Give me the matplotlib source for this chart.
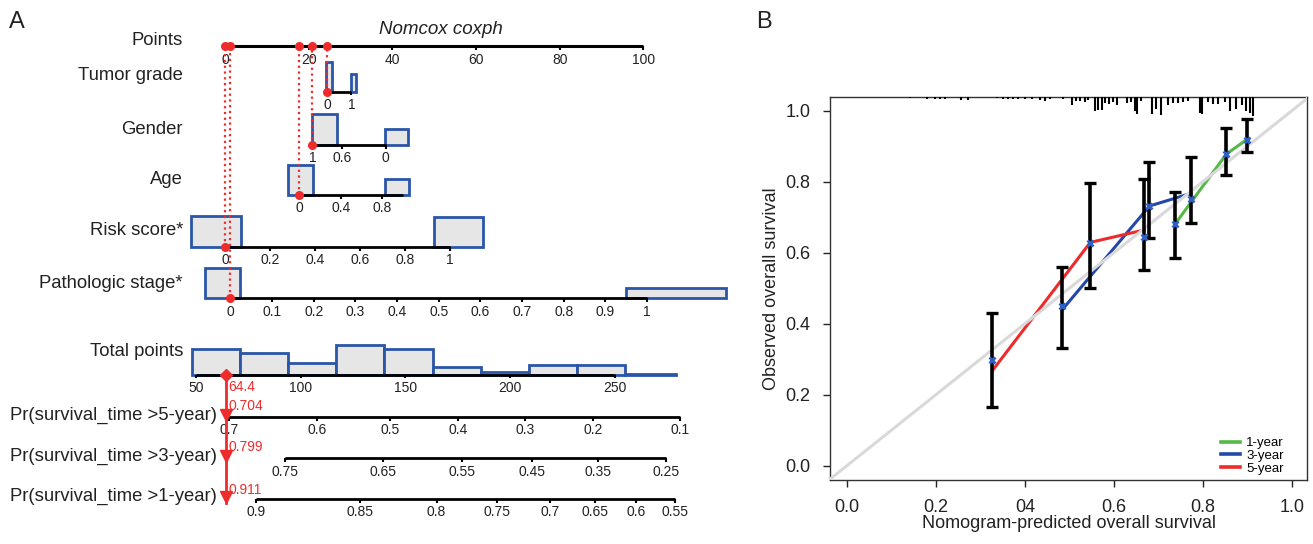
import matplotlib
matplotlib.use('Agg')
import matplotlib.pyplot as plt
from matplotlib.lines import Line2D
import numpy as np

plt.rcParams['font.family'] = ['Liberation Sans', 'DejaVu Sans']

# ------------------------------------------------------------------ data: panel A (nomogram)
points_ticks = [0, 20, 40, 60, 80, 100]

tumor_ticks = [0, 1]
tumor_labels = ['0', '1']
tumor_range = [0, 1]
tumor_pts = [24.4, 30.2]            # points at value 0 and 1
tumor_box_lo = [-0.03, 0.97]
tumor_box_hi = [0.19, 1.19]
tumor_box_freq = [30, 18]

gender_ticks = [1, 0.6, 0]
gender_labels = ['1', '0.6', '0']
gender_range = [1, 0]
gender_pts = [20.9, 38.4]           # points at value 1 and 0
gender_box_lo = [0.67, -0.31]
gender_box_hi = [1.0, 0.01]
gender_box_freq = [31, 16]

age_ticks = [0, 0.4, 0.8]
age_labels = ['0', '0.4', '0.8']
age_range = [0, 1]
age_pts = [17.8, 42.6]
age_box_lo = [-0.11, 0.82]
age_box_hi = [0.13, 1.06]
age_box_freq = [30, 16]

risk_ticks = [0, 0.2, 0.4, 0.6, 0.8, 1]
risk_labels = ['0', '0.2', '0.4', '0.6', '0.8', '1']
risk_range = [0, 1]
risk_pts = [0.0, 53.7]
risk_box_lo = [-0.15, 0.93]
risk_box_hi = [0.07, 1.15]
risk_box_freq = [31, 30]

stage_ticks = [0, 0.1, 0.2, 0.3, 0.4, 0.5, 0.6, 0.7, 0.8, 0.9, 1]
stage_labels = ['0', '0.1', '0.2', '0.3', '0.4', '0.5', '0.6', '0.7', '0.8', '0.9', '1']
stage_range = [0, 1]
stage_pts = [1.3, 100.9]
stage_box_lo = [-0.06, 0.95]
stage_box_hi = [0.024, 1.19]
stage_box_freq = [30, 10]

# observation shown in red
obs_values = {'tumor': 0, 'gender': 1, 'age': 0, 'risk': 0, 'stage': 0}

total_ticks = [50, 100, 150, 200, 250]
total_anchor = [50, 250]            # total points ...
total_anchor_pts = [-7.0, 93.2]     # ... and where they sit on the Points scale
total_bin_edges = [48, 71, 94, 117, 140, 163, 186, 209, 232, 255, 279]
total_freq = [26, 22, 12, 30, 26, 8, 3, 10, 10, 1]

pr5_ticks = [0.7, 0.6, 0.5, 0.4, 0.3, 0.2, 0.1]
pr5_total = [66.0, 107.7, 142.7, 175.0, 207.1, 239.7, 281.0]
pr3_ticks = [0.75, 0.65, 0.55, 0.45, 0.35, 0.25]
pr3_total = [92.6, 139.5, 177.3, 210.5, 242.0, 274.6]
pr1_ticks = [0.9, 0.85, 0.8, 0.75, 0.7, 0.65, 0.6, 0.55]
pr1_total = [78.8, 128.4, 164.9, 193.8, 219.0, 240.7, 260.3, 278.6]
pred_surv = [0.704, 0.799, 0.911]   # 5-, 3-, 1-year

# ------------------------------------------------------------------ data: panel B (calibration)
cal_years = ['1-year', '3-year', '5-year']
cal_pred = {'1-year': [0.737, 0.853, 0.900],
            '3-year': [0.4836, 0.680, 0.773],
            '5-year': [0.327, 0.547, 0.668]}
cal_obs = {'1-year': [0.680, 0.878, 0.920],
           '3-year': [0.439, 0.7315, 0.767],
           '5-year': [0.268, 0.629, 0.664]}
cal_corr = {'1-year': [0.681, 0.878, 0.917],
            '3-year': [0.451, 0.7315, 0.750],
            '5-year': [0.298, 0.626, 0.645]}
cal_lo = {'1-year': [0.586, 0.820, 0.885],
          '3-year': [0.331, 0.642, 0.683],
          '5-year': [0.164, 0.501, 0.551]}
cal_hi = {'1-year': [0.770, 0.952, 0.976],
          '3-year': [0.561, 0.856, 0.870],
          '5-year': [0.429, 0.796, 0.807]}

rug_x = [0.142, 0.180, 0.198, 0.209, 0.220, 0.256, 0.272, 0.337, 0.351, 0.362, 0.373,
         0.384, 0.400, 0.416, 0.434, 0.445, 0.456, 0.485, 0.506, 0.515, 0.524, 0.535,
         0.542, 0.557, 0.564, 0.573, 0.580, 0.589, 0.598, 0.606, 0.629, 0.638, 0.647,
         0.652, 0.662, 0.685, 0.694, 0.706, 0.721, 0.733, 0.744, 0.756, 0.767, 0.793,
         0.799, 0.811, 0.822, 0.834, 0.849, 0.861, 0.874, 0.888, 0.897, 0.906, 0.912]
rug_n = [1, 2, 2, 2, 2, 3, 3, 1, 2, 2, 2,
         2, 2, 2, 3, 4, 2, 2, 8, 4, 4, 5,
         3, 14, 13, 13, 6, 7, 5, 8, 6, 5, 14,
         17, 4, 17, 12, 18, 8, 6, 6, 5, 4, 16,
         17, 5, 7, 7, 5, 14, 12, 8, 14, 16, 19]

# ------------------------------------------------------------------ style
RED = '#EE2C2C'
BLUE_EDGE = '#2A55A8'
BOX_FILL = '#E6E6E6'
PX0, PXS = 225.0, 4.183       # pixel x of 0 points, pixels per point
W, H = 1313, 544

fig = plt.figure(figsize=(W / 100, H / 100), dpi=100)

axA = fig.add_axes([0, 0, 760 / W, 1])
axA.set_xlim((0 - PX0) / PXS, (760 - PX0) / PXS)
axA.set_ylim(H, 0)
axA.axis('off')

TICK_FS = 10
LAB_FS = 13.3
LAB_X = (183 - PX0) / PXS


def vmap(v, rng, pts):
    v = np.asarray(v, dtype=float)
    return pts[0] + (v - rng[0]) * (pts[1] - pts[0]) / (rng[1] - rng[0])


def draw_scale(xs, y, labels, lab_dy=13.5, lw=2.0):
    xs = np.asarray(xs, dtype=float)
    axA.plot([xs.min(), xs.max()], [y, y], color='black', lw=lw,
             solid_capstyle='butt', zorder=3)
    axA.vlines(xs, y, y + 3.5, color='black', lw=1.5, zorder=3)
    for x, lab in zip(xs, labels):
        axA.text(x, y + lab_dy, lab, ha='center', va='center',
                 fontsize=TICK_FS, color='#222222')


def draw_boxes(lo, hi, freq, rng, pts, y):
    for a, b, f in zip(lo, hi, freq):
        xa, xb = vmap(a, rng, pts), vmap(b, rng, pts)
        axA.add_patch(plt.Rectangle((min(xa, xb), y - f), abs(xb - xa), f,
                                    facecolor=BOX_FILL, edgecolor=BLUE_EDGE,
                                    lw=2.0, zorder=2))


# Points scale
Y_POINTS = 46
draw_scale(points_ticks, Y_POINTS, [str(t) for t in points_ticks], lab_dy=13.5, lw=2.2)
axA.text(LAB_X, 40.7, 'Points', ha='right', va='center', fontsize=LAB_FS, color='#222222')
axA.text((440.8 - PX0) / PXS, 29, 'Nomcox coxph', ha='center', va='center',
         fontsize=13.5, style='italic', color='#222222')

rows = [
    ('Tumor grade', 'tumor', 91.7, 75, tumor_ticks, tumor_labels, tumor_range, tumor_pts,
     tumor_box_lo, tumor_box_hi, tumor_box_freq),
    ('Gender', 'gender', 145, 130, gender_ticks, gender_labels, gender_range, gender_pts,
     gender_box_lo, gender_box_hi, gender_box_freq),
    ('Age', 'age', 195, 180, age_ticks, age_labels, age_range, age_pts,
     age_box_lo, age_box_hi, age_box_freq),
    ('Risk score*', 'risk', 247, 230.7, risk_ticks, risk_labels, risk_range, risk_pts,
     risk_box_lo, risk_box_hi, risk_box_freq),
    ('Pathologic stage*', 'stage', 298, 283.3, stage_ticks, stage_labels, stage_range, stage_pts,
     stage_box_lo, stage_box_hi, stage_box_freq),
]

obs_pts = []
for name, key, y, ly, ticks, labels, rng, pts, blo, bhi, bf in rows:
    draw_boxes(blo, bhi, bf, rng, pts, y)
    line_xs = vmap(list(ticks) + list(rng), rng, pts)
    axA.plot([line_xs.min(), line_xs.max()], [y, y], color='black', lw=2.0,
             solid_capstyle='butt', zorder=3)
    tx = vmap(ticks, rng, pts)
    axA.vlines(tx, y, y + 3.5, color='black', lw=1.5, zorder=3)
    for x, lab in zip(tx, labels):
        axA.text(x, y + 13.5, lab, ha='center', va='center', fontsize=TICK_FS, color='#222222')
    axA.text(LAB_X, ly, name, ha='right', va='center', fontsize=LAB_FS, color='#222222')
    p = float(vmap(obs_values[key], rng, pts))
    obs_pts.append(p)
    axA.plot([p, p], [y, Y_POINTS], color=RED, lw=1.6, linestyle=(0, (1, 1.6)), zorder=4)
    axA.plot([p], [y], 'o', color=RED, ms=5.5, zorder=5)
    axA.plot([p], [Y_POINTS], 'o', color=RED, ms=5.5, zorder=5)

total_obs = sum(obs_pts)


def tmap(t):
    return vmap(t, total_anchor, total_anchor_pts)


# Total points
Y_TOTAL = 374.5
for a, b, f in zip(total_bin_edges[:-1], total_bin_edges[1:], total_freq):
    xa, xb = tmap(a), tmap(b)
    axA.add_patch(plt.Rectangle((xa, Y_TOTAL - f), xb - xa, f, facecolor=BOX_FILL,
                                edgecolor=BLUE_EDGE, lw=2.0, zorder=2))
draw_scale(tmap(total_ticks), Y_TOTAL, [str(t) for t in total_ticks], lab_dy=13.5)
axA.text(LAB_X, 351.7, 'Total points', ha='right', va='center', fontsize=LAB_FS, color='#222222')

# Probability scales
PR_LAB_X = (216.7 - PX0) / PXS
pr_rows = [
    ('Pr(survival_time >5-year)', 417.3, 415, pr5_ticks, pr5_total, pred_surv[0]),
    ('Pr(survival_time >3-year)', 458.3, 456, pr3_ticks, pr3_total, pred_surv[1]),
    ('Pr(survival_time >1-year)', 499.3, 496.7, pr1_ticks, pr1_total, pred_surv[2]),
]
for name, y, ly, ticks, tpos, ps in pr_rows:
    draw_scale(tmap(tpos), y, [f'{t:g}' for t in ticks], lab_dy=13.2)
    axA.text(PR_LAB_X, ly, name, ha='right', va='center', fontsize=LAB_FS, color='#222222')

# red projection
xo = float(tmap(total_obs))
axA.plot([xo, xo], [Y_TOTAL, 503], color=RED, lw=2.0, zorder=5)
axA.plot([xo], [Y_TOTAL], 'D', color=RED, ms=6.5, zorder=6)
for name, y, ly, ticks, tpos, ps in pr_rows:
    axA.plot([xo], [y - 2.5], 'v', color=RED, ms=8, zorder=6)
tx_red = (228.5 - PX0) / PXS
axA.text(tx_red, 387, f'{total_obs:.1f}', ha='left', va='center', fontsize=TICK_FS, color=RED)
for (name, y, ly, ticks, tpos, ps), ty in zip(pr_rows, [405.5, 447, 490.5]):
    axA.text(tx_red, ty, f'{ps:.3f}', ha='left', va='center', fontsize=TICK_FS, color=RED)

fig.text(9 / W, 1 - 22 / H, 'A', fontsize=17, ha='left', va='center', color='#222222')
fig.text(756 / W, 1 - 22 / H, 'B', fontsize=17, ha='left', va='center', color='#222222')

# ------------------------------------------------------------------ panel B
axB = fig.add_axes([830 / W, (H - 480) / H, 477 / W, 383 / H])
axB.set_xlim(-0.038, 1.034)
axB.set_ylim(-0.0403, 1.0386)

colors = {'1-year': '#55B847', '3-year': '#2448A8', '5-year': '#EE2A2A'}
for yr in cal_years:
    axB.plot(cal_pred[yr], cal_obs[yr], color=colors[yr], lw=2.2, zorder=2)
axB.plot([-0.1, 1.2], [-0.1, 1.2], color='#D9D9D9', lw=2.2, zorder=3)
for yr in cal_years:
    c = np.array(cal_corr[yr])
    axB.errorbar(cal_pred[yr], c, yerr=[c - np.array(cal_lo[yr]), np.array(cal_hi[yr]) - c],
                 fmt='none', ecolor='black', elinewidth=2.6, capsize=4.5, capthick=2.4,
                 zorder=4)
for yr in cal_years:
    axB.plot(cal_pred[yr], cal_corr[yr], 'x', color='#2F5FC4', ms=4.5, mew=2.0, zorder=5)

top = axB.get_ylim()[1]
rug_len = np.array(rug_n) / 355.0
axB.vlines(rug_x, top - rug_len, top, color='black', lw=1.5, zorder=4)

axB.set_xticks([0, 0.2, 0.4, 0.6, 0.8, 1.0])
axB.set_xticklabels(['0.0', '0.2', '04', '0.6', '0.8', '1.0'])
axB.set_yticks([0, 0.2, 0.4, 0.6, 0.8, 1.0])
axB.set_yticklabels(['0.0', '0.2', '0.4', '0.6', '0.8', '1.0'])
axB.tick_params(direction='out', length=5, width=1, labelsize=13, colors='#222222')
axB.tick_params(axis='x', pad=9)
axB.tick_params(axis='y', pad=9)
for s in axB.spines.values():
    s.set_linewidth(1.0)
    s.set_color('#333333')

axB.set_xlabel('Nomogram-predicted overall survival', fontsize=13, color='#222222')
axB.set_ylabel('Observed overall survival', fontsize=13, color='#222222')
axB.xaxis.set_label_coords(0.5, (480 - 524) / 383)
axB.xaxis.label.set_va('center')
axB.yaxis.set_label_coords((771 - 830) / 477, 0.5)
axB.yaxis.label.set_va('center')

handles = [Line2D([], [], color=colors[yr], lw=2.6) for yr in cal_years]
axB.legend(handles, cal_years, loc='lower right', frameon=False, fontsize=9.5,
           handlelength=1.4, handletextpad=0.5, labelspacing=0.05, borderpad=0,
           borderaxespad=0, bbox_to_anchor=((1284 - 830) / 477, (480 - 475) / 383))

fig.savefig('out.png', dpi=100)
